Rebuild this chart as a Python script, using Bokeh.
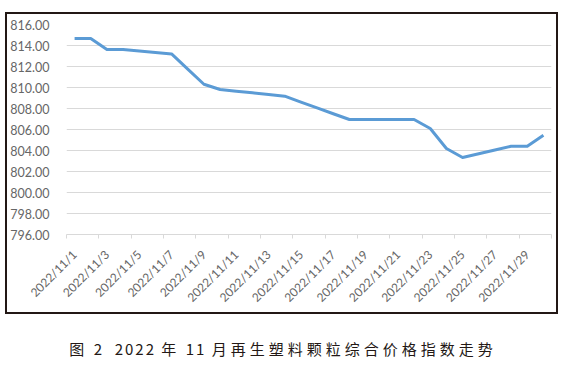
import math
import re
from bokeh.plotting import figure
from bokeh.models import FixedTicker, Div, Range1d, NumeralTickFormatter
from bokeh.layouts import column
from bokeh.embed import file_html
from bokeh.resources import INLINE

# ---- data ----
dates = ["2022/11/1", "2022/11/2", "2022/11/3", "2022/11/4", "2022/11/5",
         "2022/11/6", "2022/11/7", "2022/11/8", "2022/11/9", "2022/11/10",
         "2022/11/11", "2022/11/12", "2022/11/13", "2022/11/14", "2022/11/15",
         "2022/11/16", "2022/11/17", "2022/11/18", "2022/11/19", "2022/11/20",
         "2022/11/21", "2022/11/22", "2022/11/23", "2022/11/24", "2022/11/25",
         "2022/11/26", "2022/11/27", "2022/11/28", "2022/11/29", "2022/11/30"]
values = [814.67, 814.67, 813.62, 813.62, 813.48, 813.34, 813.20, 811.75,
          810.31, 809.81, 809.65, 809.49, 809.33, 809.17, 808.61, 808.06,
          807.50, 806.95, 806.95, 806.95, 806.95, 806.95, 806.10, 804.19,
          803.33, 803.69, 804.05, 804.41, 804.41, 805.46]
y_ticks = [796, 798, 800, 802, 804, 806, 808, 810, 812, 814, 816]
caption = "图 2  2022 年 11 月再生塑料颗粒综合价格指数走势"

x = list(range(len(dates)))
label_pos = x[::2]
boundaries = [i - 0.5 for i in range(0, len(dates) + 1, 2)]

p = figure(width=553, height=302,
           x_range=Range1d(-0.5, len(dates) - 0.5),
           y_range=Range1d(y_ticks[0], y_ticks[-1]),
           output_backend="svg", toolbar_location=None,
           min_border_left=56, min_border_right=9,
           min_border_top=10, min_border_bottom=82,
           background_fill_color="white", border_fill_alpha=0)
p.outline_line_color = None
p.styles = {"border": "2px solid #231815"}
p.margin = (12, 0, 0, 5)

p.line(x, values, line_color="#5B9BD5", line_width=3, line_join="round")

# x axis
p.xaxis.ticker = FixedTicker(ticks=label_pos, minor_ticks=boundaries)
p.xaxis.major_label_overrides = {i: dates[i] for i in label_pos}
p.xaxis.major_tick_out = 0
p.xaxis.major_tick_in = 0
p.xaxis.minor_tick_out = 4
p.xaxis.minor_tick_in = 0
p.xaxis.minor_tick_line_color = "#d9d9d9"
p.xaxis.axis_line_color = "#d9d9d9"
p.xaxis.major_label_orientation = math.pi / 4
p.xaxis.major_label_text_font = "Lato"
p.xaxis.major_label_text_font_size = "12px"
p.xaxis.major_label_text_color = "#666666"
p.xaxis.major_label_standoff = 14
p.xgrid.visible = False

# y axis
p.yaxis.ticker = FixedTicker(ticks=y_ticks)
p.yaxis.formatter = NumeralTickFormatter(format="0.00")
p.yaxis.axis_line_color = None
p.yaxis.major_tick_line_color = None
p.yaxis.minor_tick_line_color = None
p.yaxis.major_label_text_font = "Lato"
p.yaxis.major_label_text_font_size = "12.5px"
p.yaxis.major_label_text_color = "#666666"
p.yaxis.major_label_standoff = 11
p.ygrid.grid_line_color = "#d9d9d9"
p.ygrid.ticker = FixedTicker(ticks=y_ticks)

# caption: CJK runs spaced wider than Latin/digit runs
parts = []
for run in re.findall(r"[\u4e00-\u9fff]+|[^\u4e00-\u9fff]+", caption):
    if re.match(r"[\u4e00-\u9fff]", run):
        parts.append('<span style="letter-spacing:4px">%s</span>' % run)
    else:
        parts.append('<span style="letter-spacing:2px">%s</span>' % run.replace(" ", "&nbsp;"))
cap = Div(text="".join(parts), width=566, margin=(24, 0, 0, 0),
          styles={"text-align": "center", "font-family": "Noto Sans CJK SC",
                  "font-size": "15px", "color": "#231815"})

layout = column(p, cap, spacing=0)
open("out.html", "w").write(file_html(layout, INLINE))
